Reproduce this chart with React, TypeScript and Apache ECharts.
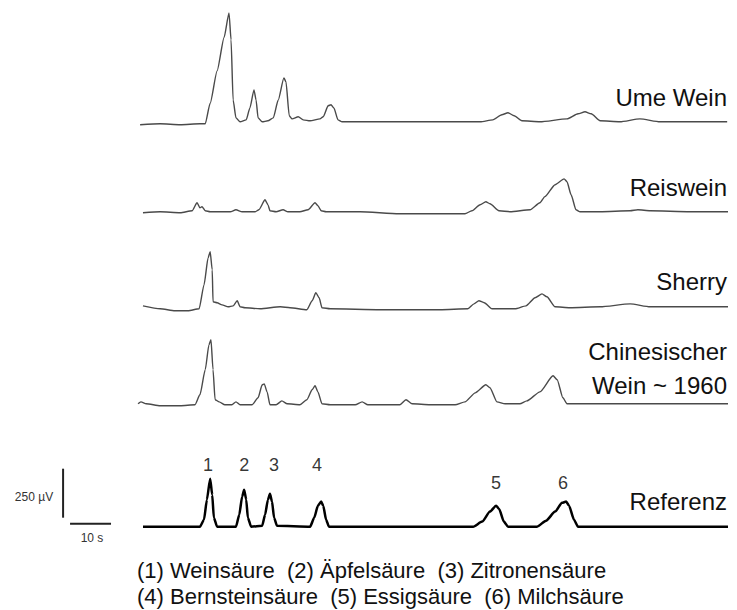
import React, { useEffect, useRef } from "react";
import * as echarts from "echarts";

// Axis ranges: time in seconds, signal in µV
const TIME_MIN = -33.7;
const TIME_MAX = 146.2;
const UV_MIN = -425;
const UV_MAX = 2687.5;

// Trace names
const traceNames = ["Ume Wein", "Reiswein", "Sherry", "Chinesischer\nWein ~ 1960", "Referenz"];
// Vertical offset of each trace baseline (µV)
const traceOffsets = [2066, 1607, 1117, 622, 0];

// [time s, signal µV]
const umeWein: number[][] = [
  [0.5, -15], [5.4, -10], [10.3, -15], [15.1, -10], [16.4, -10], [17.6, 95], [19.3, 260], [21.0, 430],
  [22.2, 556], [22.7, 418], [23.2, 112],
  [23.9, 20], [24.9, 0], [26.4, 10], [27.3, 71], [28.3, 163], [28.8, 112], [29.3, 20], [30.3, 0],
  [31.7, 5], [33.0, 20], [34.2, 110], [35.6, 224], [36.1, 204], [36.9, 31], [37.6, 15], [39.1, 26], [40.3, 10],
  [42.0, 5], [44.4, 15], [45.2, 26], [46.4, 82], [47.1, 87], [47.8, 71], [48.8, 10], [49.8, 0],
  [63.9, 0], [83.5, 0], [86.6, 10], [88.8, 36], [90.3, 46], [91.8, 31], [93.7, 5], [98.1, 0],
  [104.7, 15], [107.4, 41], [109.1, 51], [110.6, 41], [112.8, 5], [117.6, 0], [122.5, 15], [127.4, 0],
  [143.8, 0],
];

const reiswein: number[][] = [
  [1.2, -5], [5.4, 0], [10.3, -5], [13.2, 5], [14.4, 46], [15.1, 20], [15.6, 26], [16.4, 5],
  [17.6, 0], [22.5, 0], [23.9, 10], [25.4, 0], [28.6, 0], [29.5, 10], [31.0, 61], [31.7, 36],
  [32.2, 5], [33.7, 0], [35.4, 10], [36.6, 0], [39.5, 0], [41.5, 10], [43.2, 46], [43.9, 31],
  [44.7, 5], [45.9, 0], [54.2, 0], [63.7, -10], [79.8, -10], [81.5, 5], [83.5, 36], [84.9, 51],
  [85.9, 41], [88.1, 5], [90.8, 0], [95.7, 10], [98.1, 46], [99.3, 77], [101.8, 138], [104.0, 168],
  [104.7, 153], [105.7, 87], [106.9, 10], [107.9, 0], [112.8, 0], [120.1, 5], [122.0, 10], [125.0, 5],
  [134.7, 0], [144.0, 0],
];

const sherry: number[][] = [
  [1.2, 10], [5.4, -5], [9.0, -15], [12.2, -15], [14.9, -5], [16.1, 117], [17.1, 255], [17.6, 286],
  [18.1, 194], [18.3, 31], [19.3, 26], [20.5, 15], [22.0, 5], [23.2, 10], [24.2, 36], [24.9, 5],
  [26.1, 0], [29.8, -5], [34.7, 5], [37.1, 0], [41.2, -10], [42.5, 36], [43.4, 77], [44.2, 51],
  [44.9, 0], [46.9, -5], [59.1, -10], [73.7, -10], [80.5, -5], [82.0, 20], [83.2, 36], [84.5, 26],
  [86.4, -5], [88.1, -5], [92.0, -5], [94.7, 10], [96.9, 51], [98.6, 71], [99.8, 56], [101.8, 5],
  [105.4, 0], [112.8, 5], [120.1, 20], [125.0, 5], [144.0, 5],
];

const chinesisch: number[][] = [
  [0, 5], [0.7, 15], [2.0, 5], [5.4, -5], [10.3, -5], [13.9, 0], [15.1, 51], [16.4, 179],
  [17.3, 306], [17.8, 332], [18.3, 179], [18.8, 26], [19.8, 15], [21.2, 0], [22.9, 0], [23.9, 15],
  [24.9, 0], [27.8, 0], [29.3, 36], [30.3, 102], [30.8, 107], [31.5, 66], [32.2, 0], [33.7, 0],
  [35.1, 20], [36.4, 5], [39.5, 0], [41.2, 26], [42.5, 77], [43.2, 97], [43.9, 66], [44.9, 5],
  [46.9, 0], [53.0, 0], [54.7, 15], [56.1, 0], [63.9, 0], [65.4, 26], [66.9, 5], [71.3, 0],
  [77.4, 0], [79.8, 15], [82.3, 61], [84.9, 102], [85.9, 87], [87.6, 15], [89.6, 5], [93.2, 5],
  [94.9, 20], [98.1, 66], [101.3, 148], [102.3, 128], [103.7, 36], [104.7, 5], [110.3, 5], [122.5, 5],
  [144.0, 5],
];

const referenz: number[][] = [
  [1.2, 0], [7.8, 0], [15.1, 0], [16.1, 36], [16.8, 138], [17.6, 245], [18.1, 163], [18.5, 46],
  [19.3, 0], [23.9, 0], [24.7, 61], [25.4, 153], [25.9, 189], [26.4, 138], [26.8, 46], [27.6, 0],
  [30.3, 5], [31.0, 61], [31.7, 138], [32.2, 168], [32.7, 128], [33.2, 46], [33.9, 5], [42.0, 0],
  [43.0, 46], [43.9, 107], [44.7, 128], [45.2, 107], [45.9, 36], [46.6, 0], [81.8, 0], [84.0, 26],
  [85.9, 77], [87.4, 107], [88.1, 92], [89.3, 26], [90.3, 0], [97.4, 0], [99.6, 31], [101.8, 77],
  [103.5, 122], [104.5, 128], [105.2, 107], [106.4, 36], [107.4, 0], [144.0, 0],
];

const traces = [umeWein, reiswein, sherry, chinesisch, referenz];

// Peak numbers above the reference trace
const peakNumbers = ["1", "2", "3", "4", "5", "6"];
const peakLabelTimes = [17.1, 25.9, 33.2, 43.7, 87.4, 103.7];
const peakLabelHeights = [316, 316, 316, 316, 224, 224];

// Scale bar: 250 µV and 10 s
const scaleBarTime = -18.3;
const scaleBarUv = [46, 296];
const scaleBarTimeRange = [-16.6, -6.6];
const scaleBarTimeUv = 15;

const legendLines = [
  "(1) Weinsäure  (2) Äpfelsäure  (3) Zitronensäure",
  "(4) Bernsteinsäure  (5) Essigsäure  (6) Milchsäure",
];

const FONT = "'Liberation Sans', Arial, Helvetica, sans-serif";

export default function App() {
  const ref = useRef<HTMLDivElement>(null);
  useEffect(() => {
    if (!ref.current) return;
    const chart = echarts.init(ref.current, undefined, { renderer: "svg" });
    const series: any[] = traces.map((tr, i) => ({
      type: "line",
      name: traceNames[i],
      data: tr.map(([t, v]) => [t, v + traceOffsets[i]]),
      showSymbol: false,
      smooth: 0.2,
      smoothMonotone: "x",
      lineStyle: {
        color: i === 4 ? "#000" : "#4a4a4a",
        width: i === 4 ? 2.5 : 1.4,
      },
      silent: true,
      z: 2,
    }));
    series.push({
      type: "line",
      data: [[scaleBarTime, scaleBarUv[0]], [scaleBarTime, scaleBarUv[1]]],
      showSymbol: false,
      lineStyle: { color: "#222", width: 2 },
      silent: true,
    });
    series.push({
      type: "line",
      data: [[scaleBarTimeRange[0], scaleBarTimeUv], [scaleBarTimeRange[1], scaleBarTimeUv]],
      showSymbol: false,
      lineStyle: { color: "#222", width: 2 },
      silent: true,
    });
    series.push({
      type: "scatter",
      symbolSize: 0,
      data: peakNumbers.map((n, i) => ({ name: n, value: [peakLabelTimes[i], peakLabelHeights[i]] })),
      label: {
        show: true,
        position: "inside",
        formatter: "{b}",
        color: "#000",
        fontSize: 18,
        fontFamily: FONT,
      },
      silent: true,
    });

    const nameTexts = [
      { text: "Ume Wein", y: 98 },
      { text: "Reiswein", y: 188 },
      { text: "Sherry", y: 282 },
      { text: "Chinesischer", y: 352 },
      { text: "Wein ~ 1960", y: 386 },
      { text: "Referenz", y: 502 },
    ];

    const graphic: any[] = [
      ...nameTexts.map((n) => ({
        type: "text",
        right: 10,
        top: n.y - 13,
        style: {
          text: n.text,
          fill: "#111",
          fontSize: 24,
          fontFamily: FONT,
        },
      })),
      {
        type: "text",
        x: 34,
        y: 497,
        style: {
          text: "250 µV",
          fill: "#333",
          fontSize: 12,
          fontFamily: FONT,
          textAlign: "center",
          textVerticalAlign: "middle",
        },
      },
      {
        type: "text",
        x: 92,
        y: 538,
        style: {
          text: "10 s",
          fill: "#333",
          fontSize: 12,
          fontFamily: FONT,
          textAlign: "center",
          textVerticalAlign: "middle",
        },
      },
      ...legendLines.map((l, i) => ({
        type: "text",
        x: 137,
        y: 570 + i * 26,
        style: {
          text: l,
          fill: "#111",
          fontSize: 22,
          fontFamily: FONT,
          textAlign: "left",
          textVerticalAlign: "middle",
        },
      })),
    ];

    chart.setOption({
      animation: false,
      backgroundColor: "#fff",
      grid: { left: 0, right: 0, top: 0, bottom: 0 },
      xAxis: { type: "value", min: TIME_MIN, max: TIME_MAX, show: false },
      yAxis: { type: "value", min: UV_MIN, max: UV_MAX, show: false },
      series,
      graphic,
    });
    return () => chart.dispose();
  }, []);
  return (
    <div
      ref={ref}
      style={{ position: "fixed", left: 0, top: 0, width: 737, height: 610, background: "#fff" }}
    />
  );
}
